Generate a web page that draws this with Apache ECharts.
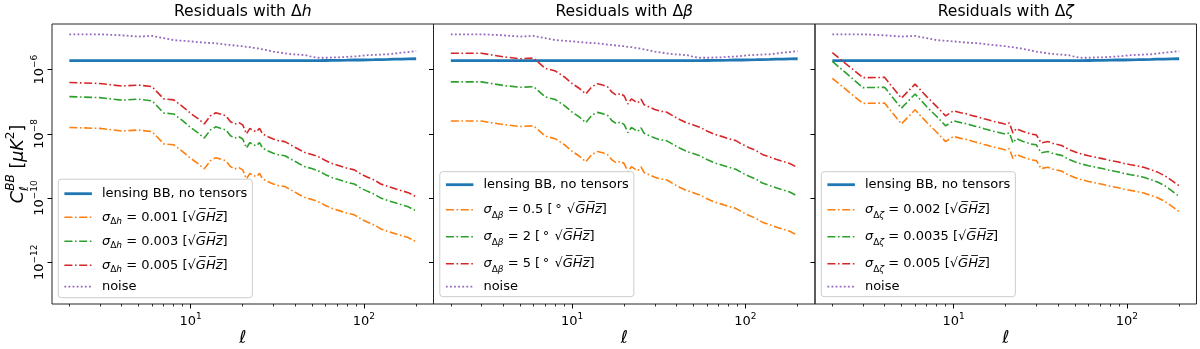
<!DOCTYPE html>
<html>
<head>
<meta charset="utf-8">
<script src="https://cdn.jsdelivr.net/npm/echarts@6/dist/echarts.min.js"></script>
<style>
 html,body{margin:0;padding:0;background:#fff}
 #chart{width:1200px;height:349px}
</style>
</head>
<body>
<div id="chart"></div>
<script>
// multipoles sampled along the curves
var ell = [2,3,4,5,6,7,8,9,10,11,12,13,14,15,16,17,18,19,20,21,22,23,24,25,26,
           28,30,32,35,38,42,46,50,55,60,66,72,80,88,96,105,115,125,138,150,165,180,200];

// all curves below are log10(C_ell^BB / muK^2)
var lensLog = [-5.72,-5.72,-5.72,-5.72,-5.72,-5.72,-5.72,-5.72,-5.72,-5.72,-5.72,-5.72,-5.72,-5.72,-5.72,-5.72,
               -5.72,-5.72,-5.72,-5.72,-5.72,-5.72,-5.72,-5.72,-5.72,-5.72,-5.72,-5.72,-5.72,-5.72,-5.72,-5.72,
               -5.72,-5.72,-5.715,-5.71,-5.71,-5.705,-5.70,-5.70,-5.695,-5.69,-5.685,-5.68,-5.675,-5.67,-5.665,-5.66];
var noiseLog = [-4.90,-4.90,-4.93,-4.97,-4.95,-5.02,-5.08,-5.10,-5.12,-5.14,-5.16,-5.17,-5.18,-5.20,-5.22,-5.23,
                -5.25,-5.26,-5.27,-5.29,-5.30,-5.32,-5.33,-5.35,-5.37,-5.40,-5.44,-5.46,-5.49,-5.52,-5.53,-5.55,
                -5.60,-5.63,-5.63,-5.62,-5.62,-5.60,-5.59,-5.57,-5.55,-5.54,-5.53,-5.52,-5.50,-5.47,-5.45,-5.42];

// panel 1: delta h
var h001Log = [-7.80,-7.83,-7.91,-7.88,-7.93,-8.31,-8.34,-8.55,-8.76,-8.92,-9.09,-8.84,-8.74,-8.79,-8.84,-9.02,
               -9.09,-9.05,-9.12,-9.40,-9.23,-9.30,-9.33,-9.23,-9.40,-9.49,-9.56,-9.61,-9.64,-9.75,-9.88,-9.99,
               -10.04,-10.12,-10.23,-10.33,-10.39,-10.47,-10.52,-10.65,-10.75,-10.84,-10.96,-11.04,-11.10,-11.17,-11.23,-11.36];
var h003Log = [-6.84,-6.87,-6.95,-6.92,-6.97,-7.35,-7.38,-7.59,-7.80,-7.96,-8.13,-7.88,-7.78,-7.83,-7.88,-8.06,
               -8.13,-8.09,-8.16,-8.44,-8.27,-8.34,-8.37,-8.27,-8.44,-8.53,-8.60,-8.65,-8.68,-8.79,-8.92,-9.03,
               -9.08,-9.16,-9.27,-9.37,-9.43,-9.51,-9.56,-9.69,-9.79,-9.88,-10.00,-10.08,-10.14,-10.21,-10.27,-10.40];
var h005Log = [-6.40,-6.43,-6.51,-6.48,-6.53,-6.91,-6.94,-7.15,-7.36,-7.52,-7.69,-7.44,-7.34,-7.39,-7.44,-7.62,
               -7.69,-7.65,-7.72,-8.00,-7.83,-7.90,-7.93,-7.83,-8.00,-8.09,-8.16,-8.21,-8.24,-8.35,-8.48,-8.59,
               -8.64,-8.72,-8.83,-8.93,-8.99,-9.07,-9.12,-9.25,-9.35,-9.44,-9.56,-9.64,-9.70,-9.77,-9.83,-9.96];

// panel 2: delta beta
var b05Log = [-7.60,-7.60,-7.71,-7.77,-7.75,-8.07,-8.15,-8.33,-8.54,-8.69,-8.87,-8.64,-8.55,-8.59,-8.64,-8.81,
              -8.90,-8.85,-8.93,-9.18,-9.02,-9.09,-9.14,-9.03,-9.20,-9.28,-9.35,-9.40,-9.43,-9.54,-9.67,-9.77,
              -9.83,-9.91,-10.02,-10.12,-10.18,-10.26,-10.32,-10.44,-10.54,-10.63,-10.75,-10.83,-10.90,-10.97,-11.03,-11.16];
var b2Log  = [-6.38,-6.38,-6.49,-6.55,-6.53,-6.85,-6.93,-7.11,-7.32,-7.47,-7.65,-7.42,-7.33,-7.37,-7.42,-7.59,
              -7.68,-7.63,-7.71,-7.96,-7.80,-7.87,-7.92,-7.81,-7.98,-8.06,-8.13,-8.18,-8.21,-8.32,-8.45,-8.55,
              -8.61,-8.69,-8.80,-8.90,-8.96,-9.04,-9.10,-9.22,-9.32,-9.41,-9.53,-9.61,-9.68,-9.75,-9.81,-9.94];
var b5Log  = [-5.49,-5.49,-5.60,-5.66,-5.64,-5.96,-6.04,-6.22,-6.43,-6.58,-6.76,-6.53,-6.44,-6.48,-6.53,-6.70,
              -6.79,-6.74,-6.82,-7.07,-6.91,-6.98,-7.03,-6.92,-7.09,-7.17,-7.24,-7.29,-7.32,-7.43,-7.56,-7.66,
              -7.72,-7.80,-7.91,-8.01,-8.07,-8.15,-8.21,-8.33,-8.43,-8.52,-8.64,-8.72,-8.79,-8.86,-8.92,-9.05];

// panel 3: delta zeta
var z002Log  = [-6.27,-7.05,-7.04,-7.69,-7.25,-7.64,-7.95,-8.24,-8.08,-8.14,-8.18,-8.24,-8.28,-8.33,-8.37,-8.41,
                -8.44,-8.47,-8.50,-8.46,-8.77,-8.64,-8.68,-8.72,-8.75,-8.81,-8.83,-9.08,-9.04,-9.11,-9.16,-9.28,
                -9.36,-9.43,-9.48,-9.53,-9.57,-9.63,-9.67,-9.72,-9.76,-9.80,-9.84,-9.92,-9.99,-10.10,-10.24,-10.42];
var z0035Log = [-5.74,-6.56,-6.55,-7.20,-6.76,-7.15,-7.46,-7.75,-7.59,-7.65,-7.69,-7.75,-7.79,-7.84,-7.88,-7.92,
                -7.95,-7.98,-8.01,-7.97,-8.28,-8.15,-8.19,-8.23,-8.26,-8.32,-8.34,-8.59,-8.55,-8.62,-8.67,-8.79,
                -8.87,-8.94,-8.99,-9.04,-9.08,-9.14,-9.18,-9.23,-9.27,-9.31,-9.35,-9.43,-9.50,-9.61,-9.76,-9.95];
var z005Log  = [-5.47,-6.25,-6.24,-6.89,-6.45,-6.84,-7.15,-7.44,-7.28,-7.34,-7.38,-7.44,-7.48,-7.53,-7.57,-7.61,
                -7.64,-7.67,-7.70,-7.66,-7.97,-7.84,-7.88,-7.92,-7.95,-8.01,-8.03,-8.28,-8.24,-8.31,-8.36,-8.48,
                -8.56,-8.63,-8.68,-8.73,-8.77,-8.83,-8.87,-8.92,-8.96,-9.00,-9.04,-9.12,-9.19,-9.30,-9.44,-9.62];

var xMajor = [10, 100];
var xMinor = [2,3,4,5,6,7,8,9,20,30,40,50,60,70,80,90,200];
var yMajor = [1e-12, 1e-10, 1e-8, 1e-6];

var LENS = 'lensing BB, no tensors', NOISE = 'noise';
var FONT = 'DejaVu Sans';
var COL = {lens:'#1f77b4', a:'#ff7f0e', b:'#2ca02c', c:'#d62728', noise:'#9467bd'};

var panels = [
 {sym:'h', deg:false, vals:['0.001','0.003','0.005'], logs:[h001Log,h003Log,h005Log], row:18, sub:11, pad:[6,5,4.5,4.7], bottom:51.3},
 {sym:'β', deg:true,  vals:['0.5','2','5'],           logs:[b05Log,b2Log,b5Log],     row:21, sub:14, pad:[4.5,5,3.5,4.7], bottom:52.3},
 {sym:'ζ', deg:false, vals:['0.002','0.0035','0.005'], logs:[z002Log,z0035Log,z005Log], row:21, sub:14, pad:[4.5,5,3.5,4.7], bottom:52.3}
];

var LEFTS = [52, 433.5, 815], TOP = 24, W = 381.5, H = 280;
var X_MIN = 1.5888, X_MAX = 251.78, Y_MIN = 5.04e-14, Y_MAX = 2.64e-5;

function pts(logs){ return ell.map(function(l,k){ return [l, Math.pow(10, logs[k])]; }); }
function sigName(p,v){ return 'σΔ'+p.sym+' = '+v; }

var tick = {color:'#000', width:1};
var supRich = {
 b:{fontFamily:FONT, fontSize:13, color:'#000', lineHeight:16, verticalAlign:'bottom'},
 s:{fontFamily:FONT, fontSize:9,  color:'#000', lineHeight:16, verticalAlign:'top'}
};

var option = {animation:false, backgroundColor:'#fff', textStyle:{fontFamily:FONT},
  title:[], grid:[], xAxis:[], yAxis:[], legend:[], series:[]};

panels.forEach(function(p,i){
 var L = LEFTS[i];
 var dash = [8,2.6,1.6,2.6];

 option.grid.push({left:L, top:TOP, width:W, height:H, show:true, borderColor:'#262626', borderWidth:1,
   backgroundColor:'transparent', containLabel:false, outerBoundsMode:'none'});

 option.title.push({text:'{n|Residuals with Δ}{i|'+p.sym+'}', left:L+W/2, top:4, textAlign:'center', padding:0,
   textStyle:{fontWeight:'normal', rich:{
     n:{fontFamily:FONT,fontSize:15.6,fontWeight:'normal',color:'#000'},
     i:{fontFamily:FONT,fontSize:15.6,fontWeight:'normal',fontStyle:'italic',color:'#000'}}}});

 option.xAxis.push({gridIndex:i, type:'log', logBase:10, min:X_MIN, max:X_MAX, position:'bottom',
   axisLine:{show:false}, splitLine:{show:false},
   axisTick:{show:true, customValues:xMajor, length:4.5, lineStyle:tick},
   axisLabel:{customValues:xMajor, margin:8, rich:supRich,
     formatter:function(v){ return '{b|10}{s|'+Math.round(Math.log10(v))+'}'; }},
   name:'ℓ', nameLocation:'middle', nameGap:25.5, nameMoveOverlap:false,
   nameTextStyle:{fontFamily:FONT, fontSize:17.5, fontStyle:'italic', color:'#000'}});
 option.xAxis.push({gridIndex:i, type:'log', logBase:10, min:X_MIN, max:X_MAX, position:'bottom',
   axisLine:{show:false}, splitLine:{show:false}, axisLabel:{show:false},
   axisTick:{show:true, customValues:xMinor, length:2.5, lineStyle:{color:'#000', width:0.8}}});

 option.yAxis.push({gridIndex:i, type:'log', logBase:10, min:Y_MIN, max:Y_MAX, position:'left',
   axisLine:{show:false}, splitLine:{show:false},
   axisTick:{show:true, customValues:yMajor, length:4.5, lineStyle:tick},
   axisLabel:{show:i===0, customValues:yMajor, rotate:90, margin:6, rich:supRich,
     formatter:function(v){ return '{b|10}{s|−'+(-Math.round(Math.log10(v)))+'}'; }},
   name: i===0 ? '{c|C}{l|ℓ}{u|BB}{t| [}{c|μK}{q|2}{t|]}' : '',
   nameLocation:'middle', nameRotate:90, nameGap:21, nameMoveOverlap:false,
   nameTextStyle:{rich:{
     c:{fontFamily:FONT, fontSize:17.5, fontStyle:'italic', color:'#000', lineHeight:26},
     t:{fontFamily:FONT, fontSize:17.5, color:'#000', lineHeight:26},
     l:{fontFamily:FONT, fontSize:12, fontStyle:'italic', color:'#000', lineHeight:15, verticalAlign:'bottom'},
     u:{fontFamily:FONT, fontSize:12, fontStyle:'italic', color:'#000', lineHeight:15, verticalAlign:'top', padding:[0,0,0,-4.5]},
     q:{fontFamily:FONT, fontSize:12, color:'#000', lineHeight:15, verticalAlign:'top'}
   }}});

 var names = [LENS];
 option.series.push({type:'line', name:LENS, xAxisIndex:2*i, yAxisIndex:i, data:pts(lensLog), symbol:'none',
   color:COL.lens, lineStyle:{color:COL.lens, width:2.8}, z:2});
 [COL.a, COL.b, COL.c].forEach(function(c,k){
   var nm = sigName(p, p.vals[k]);
   names.push(nm);
   option.series.push({type:'line', name:nm, xAxisIndex:2*i, yAxisIndex:i, data:pts(p.logs[k]), symbol:'none',
     color:c, lineStyle:{color:c, width:1.6, type:dash}, z:3+k});
 });
 names.push(NOISE);
 option.series.push({type:'line', name:NOISE, xAxisIndex:2*i, yAxisIndex:i, data:pts(noiseLog), symbol:'none',
   color:COL.noise, lineStyle:{color:COL.noise, width:1.8, type:[1.8,2.3]}, z:6});

 var R = p.row, S = p.sub;
 option.legend.push({orient:'vertical', left:L+6.3, bottom:p.bottom, data:names, selectedMode:false,
   itemWidth:27.5, itemHeight:12, itemGap:6, padding:p.pad,
   backgroundColor:'rgba(255,255,255,0.8)', borderColor:'#cccccc', borderWidth:1, borderRadius:3,
   itemStyle:{opacity:0}, lineStyle:{width:'inherit'},
   textStyle:{fontFamily:FONT, fontSize:13, color:'#000', padding:[0,0,0,5], backgroundColor:'rgba(0,0,0,0)', rich:{
     L:{fontFamily:FONT, fontSize:13, color:'#000', lineHeight:17},
     N:{fontFamily:FONT, fontSize:13, color:'#000', lineHeight:12},
     m:{fontFamily:FONT, fontSize:13, color:'#000', lineHeight:R},
     i:{fontFamily:FONT, fontSize:13, color:'#000', fontStyle:'italic', lineHeight:R},
     d:{fontFamily:FONT, fontSize:9, color:'#000', lineHeight:S, verticalAlign:'bottom'},
     e:{fontFamily:FONT, fontSize:9, color:'#000', fontStyle:'italic', lineHeight:S, verticalAlign:'bottom'}
   }},
   formatter:function(name){
     if(name===LENS) return '{L|'+name+'}';
     if(name===NOISE) return '{N|'+name+'}';
     var v = name.split('= ')[1];
     return '{i|σ}{d|Δ}{e|'+p.sym+'}{m| = '+v+' ['+(p.deg?'\u2009°\u2009\u2009':'')+'√}{i|G\u0305H\u0305z\u0305}{m|]}';
   }});
});

var chart = echarts.init(document.getElementById('chart'), null, {renderer:'canvas'});
chart.setOption(option);
</script>
</body>
</html>
